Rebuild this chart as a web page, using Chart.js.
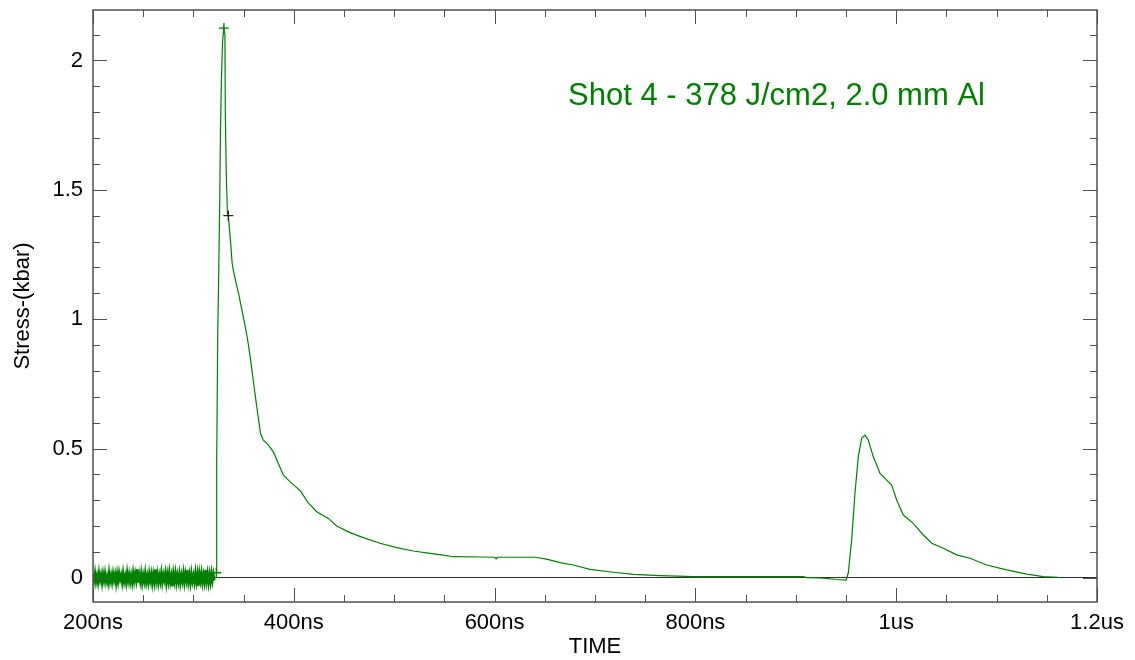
<!DOCTYPE html>
<html>
<head>
<meta charset="utf-8">
<title>Shot 4 - stress trace</title>
<script src="https://cdn.jsdelivr.net/npm/chart.js@4.4.1/dist/chart.umd.min.js"></script>
<style>
  html, body { margin: 0; padding: 0; background: #fff; }
  canvas { display: block; }
</style>
</head>
<body>
<canvas id="stressChart" width="1135" height="660"></canvas>
<script>
// baseline noise before the shock arrives, one sample per ns from 200ns
var noiseStart = 200;
var noiseStress = [
  0.015, -0.012, 0.02, -0.016, 0.009, -0.018, 0.021, -0.008, 0.013, -0.02, 0.017, -0.011, 0.019, -0.015, 0.006, -0.019, 0.022, -0.013, 0.011, -0.017,
  0.018, -0.009, 0.014, -0.021, 0.016, -0.014, 0.02, -0.006, 0.012, -0.018, 0.019, -0.016, 0.008, -0.02, 0.021, -0.012, 0.015, -0.017, 0.01, -0.019,
  0.02, -0.013, 0.017, -0.01, 0.034, -0.018, 0.013, -0.015, 0.019, -0.02, 0.011, -0.014, 0.021, -0.017, 0.009, -0.019, 0.018, -0.011, 0.016, -0.021,
  0.014, -0.016, 0.033, -0.012, 0.017, -0.02, 0.01, -0.015, 0.02, -0.018, 0.013, -0.009, 0.019, -0.021, 0.015, -0.014, 0.022, -0.017, 0.008, -0.033,
  0.018, -0.012, 0.02, -0.019, 0.012, -0.015, 0.017, -0.02, 0.011, -0.013, 0.021, -0.018, 0.016, -0.01, 0.03, -0.016, 0.013, -0.02, 0.019, -0.014,
  0.01, -0.018, 0.021, -0.015, 0.015, -0.032, 0.018, -0.011, 0.02, -0.019, 0.012, -0.016, 0.031, -0.013, 0.017, -0.02, 0.014, -0.017, 0.019, -0.012,
  0.016, -0.01
];

// main trace (ns, kbar)
var timeNs = [
  322.6, 323.2, 324.3, 325.0, 326.2, 327.0, 328.0, 329.0, 330.3, 331.4, 331.8, 332.8, 333.9, 334.8, 335.8,
  337.2, 338.5, 339.7, 342.5, 345, 347, 349.7, 352.3, 354.6, 357, 359.6, 362.2, 364.5, 366.9, 369.5,
  374.5, 379.5, 384.5, 389.5, 396.1, 401.2, 406.2, 414.4, 422.8, 434.4, 442.7, 456, 469.2, 485.9, 502.5,
  519, 535.7, 548.9, 558.9, 585.5, 600, 601.5, 603, 640.2, 651.9, 665.1, 678.4, 695, 718.2, 738.2,
  764.8, 798, 907.5, 911, 924.2, 940.7, 950.1, 952.3, 955.7, 959, 962.3, 965.6, 968.9, 972.2, 977.2,
  983.9, 990.5, 995.5, 1000.5, 1007.1, 1017, 1027, 1035.4, 1046.9, 1060.3, 1073.5, 1090.1, 1110, 1130, 1146.5,
  1161.4
];
var stressKbar = [
  0.02, 0.45, 0.96, 1.12, 1.45, 1.74, 1.94, 2.07, 2.125, 2.10, 1.79, 1.55, 1.41, 1.40, 1.355,
  1.29, 1.22, 1.19, 1.14, 1.10, 1.06, 1.009, 0.958, 0.906, 0.842, 0.764, 0.687, 0.623, 0.558, 0.533,
  0.514, 0.488, 0.443, 0.398, 0.372, 0.355, 0.338, 0.29, 0.256, 0.23, 0.201, 0.175, 0.156, 0.134, 0.117,
  0.104, 0.095, 0.088, 0.082, 0.081, 0.08, 0.074, 0.08, 0.08, 0.073, 0.059, 0.05, 0.033, 0.022, 0.014,
  0.009, 0.005, 0.005, 0.001, 0.0, -0.006, -0.008, 0.02, 0.15, 0.33, 0.47, 0.54, 0.552, 0.533, 0.468,
  0.404, 0.378, 0.359, 0.301, 0.243, 0.211, 0.166, 0.134, 0.115, 0.089, 0.076, 0.05, 0.031, 0.015, 0.005,
  0.002
];

// cursor crosses
var markerTime = [322.8, 330.4, 334.8];
var markerStress = [0.02, 2.125, 1.40];
var markerColor = ['#008000', '#008000', '#222222'];

var xTickValues = [200, 400, 600, 800, 1000, 1200];
var xTickLabels = ['200ns', '400ns', '600ns', '800ns', '1us', '1.2us'];
var xMinorTicks = [250, 300, 350, 450, 500, 550, 650, 700, 750, 850, 900, 950, 1050, 1100, 1150];
var yTickValues = [0, 0.5, 1, 1.5, 2];
var yTickLabels = ['0', '0.5', '1', '1.5', '2'];
var yMinorTicks = [0.1, 0.2, 0.3, 0.4, 0.6, 0.7, 0.8, 0.9, 1.1, 1.2, 1.3, 1.4, 1.6, 1.7, 1.8, 1.9, 2.1];

var noteText = 'Shot 4 - 378 J/cm2, 2.0 mm Al';

var fontFamily = '"Liberation Sans", Arial, sans-serif';
var noise = noiseStress.map(function (v, i) {
    return { x: noiseStart + i, y: v };
});
var trace = timeNs.map(function (t, i) {
    return { x: t, y: stressKbar[i] };
});
var markers = markerTime.map(function (t, i) {
    return { x: t, y: markerStress[i] };
});

// frame, inward tick marks and the shot note
var framePlugin = {
    id: 'frame',
    afterDraw: function (chart) {
        var ctx = chart.ctx;
        var a = chart.chartArea;
        var xs = chart.scales.x, ys = chart.scales.y;
        ctx.save();
        ctx.strokeStyle = '#505050';
        ctx.lineWidth = 1;
        ctx.beginPath();
        function xTick(v, len) {
            var px = Math.round(xs.getPixelForValue(v)) + 0.5;
            ctx.moveTo(px, a.bottom); ctx.lineTo(px, a.bottom - len);
            ctx.moveTo(px, a.top); ctx.lineTo(px, a.top + len);
        }
        function yTick(v, len) {
            var py = Math.round(ys.getPixelForValue(v)) + 0.5;
            ctx.moveTo(a.left, py); ctx.lineTo(a.left + len, py);
            ctx.moveTo(a.right, py); ctx.lineTo(a.right - len, py);
        }
        xTickValues.forEach(function (v) { xTick(v, 14); });
        xMinorTicks.forEach(function (v) { xTick(v, 7); });
        yTickValues.forEach(function (v) { yTick(v, 14); });
        yMinorTicks.forEach(function (v) { yTick(v, 7); });
        ctx.stroke();
        ctx.lineWidth = 1.5;
        ctx.strokeRect(a.left, a.top, a.right - a.left, a.bottom - a.top);

        ctx.fillStyle = '#008000';
        ctx.font = '31px ' + fontFamily;
        ctx.textAlign = 'left';
        ctx.textBaseline = 'alphabetic';
        ctx.fillText(noteText, 568, 105);
        ctx.restore();
    }
};

const myChart = new Chart(document.getElementById('stressChart'), {
    type: 'scatter',
    data: {
        datasets: [{
            data: noise,
            showLine: true,
            borderColor: '#008000',
            borderWidth: 2.2,
            pointRadius: 0,
            tension: 0,
            order: 3
        }, {
            data: trace,
            showLine: true,
            borderColor: '#008000',
            borderWidth: 1.2,
            pointRadius: 0,
            tension: 0,
            order: 2
        }, {
            data: markers,
            showLine: false,
            pointStyle: 'cross',
            pointRadius: 5,
            borderWidth: 1.3,
            borderColor: markerColor,
            order: 1
        }]
    },
    options: {
        responsive: false,
        animation: false,
        events: [],
        layout: { padding: { top: 10, right: 38, bottom: 0, left: 0 } },
        plugins: {
            legend: { display: false },
            tooltip: { enabled: false }
        },
        scales: {
            x: {
                type: 'linear',
                min: 200,
                max: 1200,
                afterBuildTicks: function (s) { s.ticks = xTickValues.map(function (v) { return { value: v }; }); },
                afterFit: function (s) { s.height = 58; s.paddingLeft = 0; s.paddingRight = 0; },
                grid: { display: false, drawTicks: false },
                border: { display: false },
                ticks: {
                    autoSkip: false,
                    maxRotation: 0,
                    padding: 8,
                    color: '#000',
                    font: { family: fontFamily, size: 22 },
                    callback: function (v) { return xTickLabels[xTickValues.indexOf(v)]; }
                },
                title: {
                    display: true,
                    text: 'TIME',
                    color: '#000',
                    font: { family: fontFamily, size: 22 },
                    padding: { top: 0, bottom: 0 }
                }
            },
            y: {
                type: 'linear',
                min: -0.093,
                max: 2.195,
                afterBuildTicks: function (s) { s.ticks = yTickValues.map(function (v) { return { value: v }; }); },
                afterFit: function (s) { s.width = 93; s.paddingTop = 0; s.paddingBottom = 0; },
                grid: {
                    drawTicks: false,
                    lineWidth: 1,
                    color: function (c) { return c.tick && c.tick.value === 0 ? '#303030' : 'rgba(0,0,0,0)'; }
                },
                border: { display: false },
                ticks: {
                    padding: 10,
                    color: '#000',
                    font: { family: fontFamily, size: 22 },
                    callback: function (v) { return yTickLabels[yTickValues.indexOf(v)]; }
                },
                title: {
                    display: true,
                    text: 'Stress-(kbar)',
                    color: '#000',
                    font: { family: fontFamily, size: 22 },
                    padding: { top: 10, bottom: 0 }
                }
            }
        }
    },
    plugins: [framePlugin]
});
</script>
</body>
</html>
